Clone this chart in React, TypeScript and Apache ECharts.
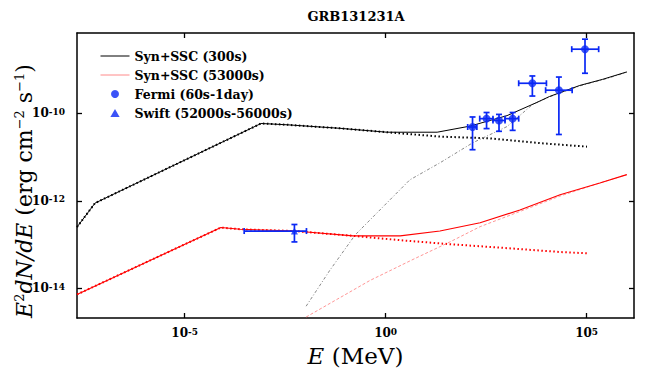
import React, { useEffect, useRef } from "react";
import * as echarts from "echarts";

// ---------- data (E in MeV, flux in erg cm^-2 s^-1) ----------
const synSsc300E = [2.09e-8, 5.89e-8, 7.94e-4, 3.55e-3, 7.24e-2, 1.07, 19.1, 126, 1047, 5754, 12023, 67608, 251189, 1.0e6];
const synSsc300F = [2.51e-13, 8.91e-13, 5.89e-11, 5.5e-11, 4.57e-11, 3.72e-11, 3.72e-11, 5.13e-11, 8.91e-11, 1.78e-10, 2.45e-10, 4.37e-10, 6.03e-10, 8.91e-10];

const syn300E = [2.09e-8, 5.89e-8, 7.94e-4, 3.55e-3, 7.24e-2, 1.07, 22.4, 398, 6918, 102329];
const syn300F = [2.51e-13, 8.91e-13, 5.89e-11, 5.5e-11, 4.57e-11, 3.72e-11, 2.95e-11, 2.69e-11, 2.09e-11, 1.74e-11];

const ssc300E = [1.05e-2, 4.07e-2, 0.174, 0.851, 3.98, 22.4, 148, 1047, 4571, 12023, 67608, 251189, 1.0e6];
const ssc300F = [3.89e-15, 2.57e-14, 1.66e-13, 7.24e-13, 3.02e-12, 7.41e-12, 2.14e-11, 5.01e-11, 1.62e-10, 2.4e-10, 4.27e-10, 5.89e-10, 8.71e-10];

const synSsc53kE = [2.09e-8, 7.94e-5, 2.4e-4, 5.5e-3, 0.155, 2.29, 22.4, 224, 2188, 21878, 213796, 1.0e6];
const synSsc53kF = [7.24e-15, 2.45e-13, 2.24e-13, 2.04e-13, 1.58e-13, 1.58e-13, 2.04e-13, 3.16e-13, 6.17e-13, 1.38e-12, 2.57e-12, 3.98e-12];

const syn53kE = [2.09e-8, 7.94e-5, 2.4e-4, 5.5e-3, 0.155, 2.29, 39.8, 692, 21878, 107152];
const syn53kF = [7.24e-15, 2.45e-13, 2.24e-13, 2.04e-13, 1.58e-13, 1.26e-13, 1.02e-13, 8.51e-14, 6.76e-14, 6.31e-14];

const ssc53kE = [1.05e-2, 0.407, 4.79, 39.8, 224, 4571, 21878, 213796, 1.0e6];
const ssc53kF = [2.2e-15, 1.51e-14, 4.57e-14, 1.15e-13, 2.57e-13, 7.41e-13, 1.29e-12, 2.57e-12, 3.98e-12];

// Fermi points: E, Elo, Ehi, F, Flo, Fhi
const fermiE = [145, 324, 661, 1445, 4467, 20417, 91201];
const fermiElo = [110, 219, 468, 933, 2042, 9550, 42658];
const fermiEhi = [186, 468, 933, 2042, 10000, 43652, 199526];
const fermiF = [4.9e-11, 7.6e-11, 6.9e-11, 7.6e-11, 4.9e-10, 3.4e-10, 2.95e-9];
const fermiFlo = [1.48e-11, 4.5e-11, 3.9e-11, 4.1e-11, 2.5e-10, 3.3e-11, 8.3e-10];
const fermiFhi = [8.3e-11, 1.05e-10, 9.5e-11, 1.05e-10, 7.2e-10, 6.8e-10, 5.0e-9];

const swiftE = [5.37e-3];
const swiftElo = [3.02e-4];
const swiftEhi = [1.07e-2];
const swiftF = [2.04e-13];
const swiftFlo = [1.15e-13];
const swiftFhi = [2.88e-13];

const xTicks = [1e-5, 1, 1e5];
const yTicks = [1e-14, 1e-12, 1e-10];
const X_MIN = 2.09e-8;
const X_MAX = 1.51e6;
const Y_MIN = 2.09e-15;
const Y_MAX = 6.92e-9;

const TITLE = "GRB131231A";
const Y_NAME = "{i|E}{s|2}{i|dN/dE}{n| (erg cm}{s|−2}{n| s}{s|−1}{n|)}";
const X_NAME = "{i|E} (MeV)";
const SERIF = "DejaVu Serif";
const BLUE = "#0a28f5";

const zip = (a: number[], b: number[]) => a.map((v, i) => [v, b[i]]);

const fmtPow = (v: number) => {
  const p = Math.log10(v);
  const r = Math.round(p);
  if (Math.abs(p - r) > 1e-6) return "";
  return `{b|10}{s|${r}}`;
};

const labelRich = {
  b: { fontFamily: SERIF, fontWeight: "bold", fontSize: 12, lineHeight: 12, padding: [4, 0, 0, 0], verticalAlign: "bottom", color: "#000" },
  s: { fontFamily: SERIF, fontWeight: "bold", fontSize: 9, lineHeight: 9, verticalAlign: "top", color: "#000" },
};

const errorRender = (params: any, api: any) => {
  const e = api.value(0), f = api.value(1);
  const elo = api.value(2), ehi = api.value(3), flo = api.value(4), fhi = api.value(5);
  const l = api.coord([elo, f]);
  const r = api.coord([ehi, f]);
  const b = api.coord([e, flo]);
  const t = api.coord([e, fhi]);
  const cap = 3;
  const style = { stroke: BLUE, lineWidth: 1.7, fill: null };
  const ln = (x1: number, y1: number, x2: number, y2: number) => ({ type: "line", shape: { x1, y1, x2, y2 }, style });
  return {
    type: "group",
    children: [
      ln(l[0], l[1], r[0], r[1]),
      ln(l[0], l[1] - cap, l[0], l[1] + cap),
      ln(r[0], r[1] - cap, r[0], r[1] + cap),
      ln(b[0], b[1], t[0], t[1]),
      ln(b[0] - cap, b[1], b[0] + cap, b[1]),
      ln(t[0] - cap, t[1], t[0] + cap, t[1]),
    ],
  };
};

export default function App() {
  const ref = useRef<HTMLDivElement>(null);
  useEffect(() => {
    if (!ref.current) return;
    const chart = echarts.init(ref.current, undefined, { renderer: "svg" });

    const axisCommon = (extra: any) => ({
      type: "log",
      logBase: 10,
      splitLine: { show: false },
      minorTick: { show: false },
      axisLine: { show: true, lineStyle: { color: "#000", width: 1.5 } },
      ...extra,
    });
    const tick = (vals: number[]) => ({
      show: true,
      inside: true,
      length: 5,
      customValues: vals,
      lineStyle: { color: "#000", width: 1.3 },
    });

    const option: any = {
      animation: false,
      backgroundColor: "#fff",
      graphic: [
        {
          type: "text",
          x: 356,
          y: 16,
          style: {
            text: TITLE,
            fontFamily: SERIF,
            fontWeight: "bold",
            fontSize: 13,
            fill: "#000",
            align: "center",
            verticalAlign: "middle",
          },
        },
        {
          type: "text",
          x: 24,
          y: 191,
          rotation: Math.PI / 2,
          style: {
            text: Y_NAME,
            fontFamily: SERIF,
            fontSize: 22,
            fill: "#000",
            align: "center",
            verticalAlign: "middle",
            rich: {
              i: { fontFamily: SERIF, fontStyle: "italic", fontSize: 22, lineHeight: 22, padding: [4, 0, 0, 0], verticalAlign: "bottom", fill: "#000" },
              n: { fontFamily: SERIF, fontSize: 22, lineHeight: 22, padding: [4, 0, 0, 0], verticalAlign: "bottom", fill: "#000" },
              s: { fontFamily: SERIF, fontSize: 13, lineHeight: 13, verticalAlign: "top", fill: "#000" },
            },
          },
        },
      ],
      grid: { left: 77, right: 15, top: 33, bottom: 53, containLabel: false, outerBoundsMode: "none" },
      legend: {
        orient: "vertical",
        left: 95,
        top: 43,
        itemWidth: 29,
        itemHeight: 8,
        itemGap: 3,
        data: [
          { name: "Syn+SSC (300s)", itemStyle: { opacity: 0 }, lineStyle: { color: "#000", width: 1 } },
          { name: "Syn+SSC (53000s)", itemStyle: { opacity: 0 }, lineStyle: { color: "#ff8a8a", width: 1 } },
          { name: "Fermi (60s-1day)" },
          { name: "Swift (52000s-56000s)", icon: "path://M5,0L10,8.66L0,8.66Z" },
        ],
        textStyle: { fontFamily: SERIF, fontWeight: "bold", fontSize: 12.5, lineHeight: 16, color: "#000" },
      },
      xAxis: [
        axisCommon({
          min: X_MIN,
          max: X_MAX,
          position: "bottom",
          name: X_NAME,
          nameLocation: "middle",
          nameGap: 19,
          nameTextStyle: {
            fontFamily: SERIF,
            fontSize: 23,
            lineHeight: 24,
            color: "#000",
            rich: { i: { fontFamily: SERIF, fontStyle: "italic", fontSize: 23, lineHeight: 24, color: "#000" } },
          },
          axisTick: tick(xTicks),
          axisLabel: { show: true, customValues: xTicks, margin: 9, formatter: fmtPow, rich: labelRich },
        }),
        axisCommon({
          min: X_MIN,
          max: X_MAX,
          position: "top",
          axisTick: tick(xTicks),
          axisLabel: { show: false },
        }),
      ],
      yAxis: [
        axisCommon({
          min: Y_MIN,
          max: Y_MAX,
          position: "left",
          axisTick: tick(yTicks),
          axisLabel: { show: true, customValues: yTicks, margin: 12, formatter: fmtPow, rich: labelRich },
        }),
        axisCommon({
          min: Y_MIN,
          max: Y_MAX,
          position: "right",
          axisTick: tick(yTicks),
          axisLabel: { show: false },
        }),
      ],
      series: [
        {
          name: "Syn (300s)",
          type: "line",
          data: zip(syn300E, syn300F),
          symbol: "none",
          lineStyle: { color: "#000", width: 2, type: [1.5, 2.5] },
          z: 2,
        },
        {
          name: "SSC (300s)",
          type: "line",
          data: zip(ssc300E, ssc300F),
          symbol: "none",
          lineStyle: { color: "#888", width: 1, type: [3, 2, 1, 2] },
          z: 2,
        },
        {
          name: "Syn+SSC (300s)",
          type: "line",
          data: zip(synSsc300E, synSsc300F),
          symbol: "none",
          itemStyle: { color: "#000" },
          lineStyle: { color: "#000", width: 1 },
          z: 3,
        },
        {
          name: "Syn (53000s)",
          type: "line",
          data: zip(syn53kE, syn53kF),
          symbol: "none",
          lineStyle: { color: "#ff0000", width: 2, type: [1.5, 2.5] },
          z: 2,
        },
        {
          name: "SSC (53000s)",
          type: "line",
          data: zip(ssc53kE, ssc53kF),
          symbol: "none",
          lineStyle: { color: "#ff7a7a", width: 0.8, type: [3, 2] },
          z: 2,
        },
        {
          name: "Syn+SSC (53000s)",
          type: "line",
          data: zip(synSsc53kE, synSsc53kF),
          symbol: "none",
          itemStyle: { color: "#ff0000" },
          lineStyle: { color: "#ff0000", width: 1.1 },
          z: 3,
        },
        {
          name: "Fermi errors",
          type: "custom",
          renderItem: errorRender,
          data: fermiE.map((e, i) => [e, fermiF[i], fermiElo[i], fermiEhi[i], fermiFlo[i], fermiFhi[i]]),
          encode: { x: 0, y: 1 },
          z: 4,
        },
        {
          name: "Swift errors",
          type: "custom",
          renderItem: errorRender,
          data: swiftE.map((e, i) => [e, swiftF[i], swiftElo[i], swiftEhi[i], swiftFlo[i], swiftFhi[i]]),
          encode: { x: 0, y: 1 },
          z: 4,
        },
        {
          name: "Fermi (60s-1day)",
          type: "scatter",
          data: zip(fermiE, fermiF),
          symbol: "circle",
          symbolSize: 8,
          itemStyle: { color: BLUE },
          z: 5,
        },
        {
          name: "Swift (52000s-56000s)",
          type: "scatter",
          data: zip(swiftE, swiftF),
          symbol: "triangle",
          symbolSize: 7,
          itemStyle: { color: BLUE },
          z: 5,
        },
      ],
    };
    chart.setOption(option);
    return () => chart.dispose();
  }, []);

  return <div ref={ref} style={{ position: "absolute", left: 0, top: 0, width: 649, height: 371 }} />;
}
